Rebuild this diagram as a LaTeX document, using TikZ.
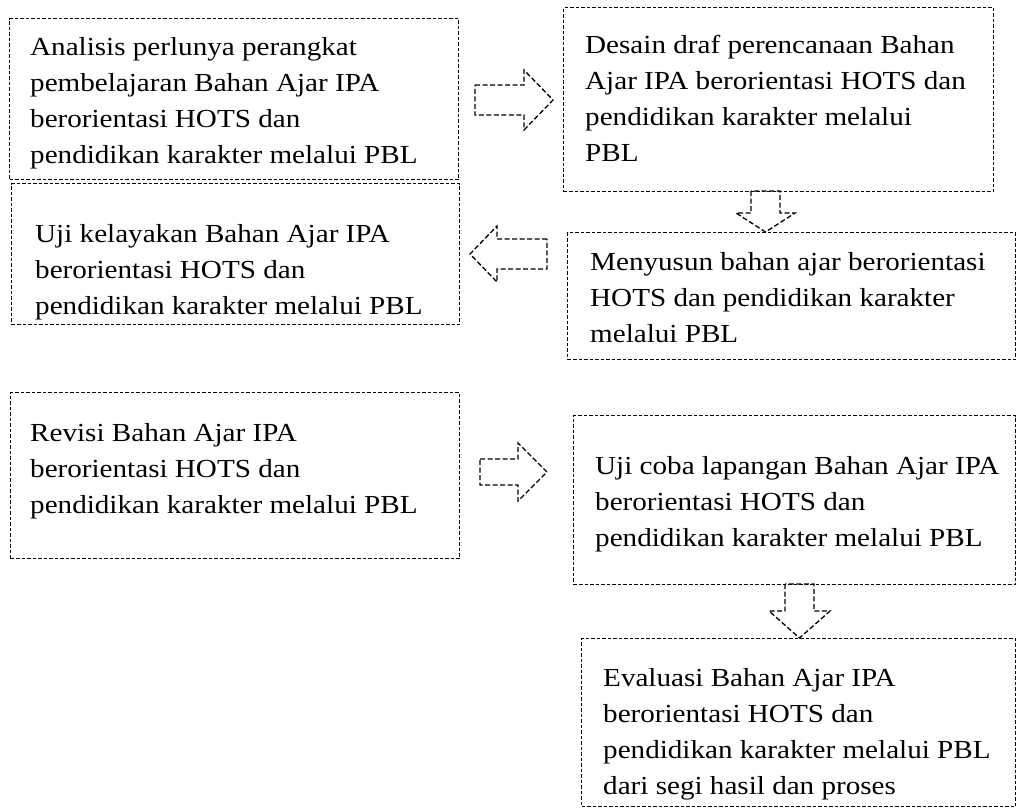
\documentclass[tikz,border=0pt]{standalone}
\usepackage{fontspec}
\setmainfont[FakeStretch=1.12]{Liberation Serif}
\begin{document}
\begin{tikzpicture}[x=1pt,y=-1pt,
  box/.style={draw, dash pattern=on 3.5pt off 2pt, line width=1.2pt, inner sep=0pt, anchor=north west},
  txt/.style={anchor=north west, inner sep=0pt, align=left, font=\fontsize{26}{36}\selectfont},
  barrow/.style={draw, dash pattern=on 5pt off 2.5pt, line width=1.3pt, line join=miter}]
\useasboundingbox (0,0) rectangle (1016,807);

% boxes
\node[box, minimum width=449pt, minimum height=161pt] (b1) at (9,18) {};
\node[box, minimum width=448pt, minimum height=141pt] (b2) at (11,183) {};
\node[box, minimum width=430pt, minimum height=184pt] (b3) at (563,7) {};
\node[box, minimum width=448pt, minimum height=127pt] (b4) at (567,232) {};
\node[box, minimum width=449pt, minimum height=166pt] (b5) at (10,392) {};
\node[box, minimum width=442pt, minimum height=169pt] (b6) at (573,415) {};
\node[box, minimum width=434pt, minimum height=168pt] (b7) at (581,638) {};

% texts
\node[txt] (t1) at (30,35) {\rule{0pt}{20pt}Analisis perlunya perangkat\\pembelajaran Bahan Ajar IPA\\berorientasi HOTS dan\\pendidikan karakter melalui PBL};
\node[txt] (t2) at (35,222) {\rule{0pt}{20pt}Uji kelayakan Bahan Ajar IPA\\berorientasi HOTS dan\\pendidikan karakter melalui PBL};
\node[txt] (t3) at (585,33) {\rule{0pt}{20pt}Desain draf perencanaan Bahan\\Ajar IPA berorientasi HOTS dan\\pendidikan karakter melalui\\PBL};
\node[txt] (t4) at (590,250) {\rule{0pt}{20pt}Menyusun bahan ajar berorientasi\\HOTS dan pendidikan karakter\\melalui PBL};
\node[txt] (t5) at (30,421) {\rule{0pt}{20pt}Revisi Bahan Ajar IPA\\berorientasi HOTS dan\\pendidikan karakter melalui PBL};
\node[txt] (t6) at (595,454) {\rule{0pt}{20pt}Uji coba lapangan Bahan Ajar IPA\\berorientasi HOTS dan\\pendidikan karakter melalui PBL};
\node[txt] (t7) at (603,666) {\rule{0pt}{20pt}Evaluasi Bahan Ajar IPA\\berorientasi HOTS dan\\pendidikan karakter melalui PBL\\dari segi hasil dan proses};

% block arrows
\draw[barrow] (475,85) -- (524,85) -- (524,70) -- (553,100) -- (524,130) -- (524,115) -- (475,115) -- cycle;
\draw[barrow] (751,191) -- (751,213) -- (736,213) -- (765.5,232) -- (795,213) -- (780,213) -- (780,191) -- cycle;
\draw[barrow] (547,239) -- (497,239) -- (497,226) -- (470,254) -- (497,282) -- (497,269) -- (547,269) -- cycle;
\draw[barrow] (480,459) -- (518,459) -- (518,443) -- (547,472) -- (518,501) -- (518,485) -- (480,485) -- cycle;
\draw[barrow] (785,584) -- (785,611) -- (769,611) -- (799.5,638) -- (830,611) -- (814,611) -- (814,584) -- cycle;
\end{tikzpicture}
\end{document}
